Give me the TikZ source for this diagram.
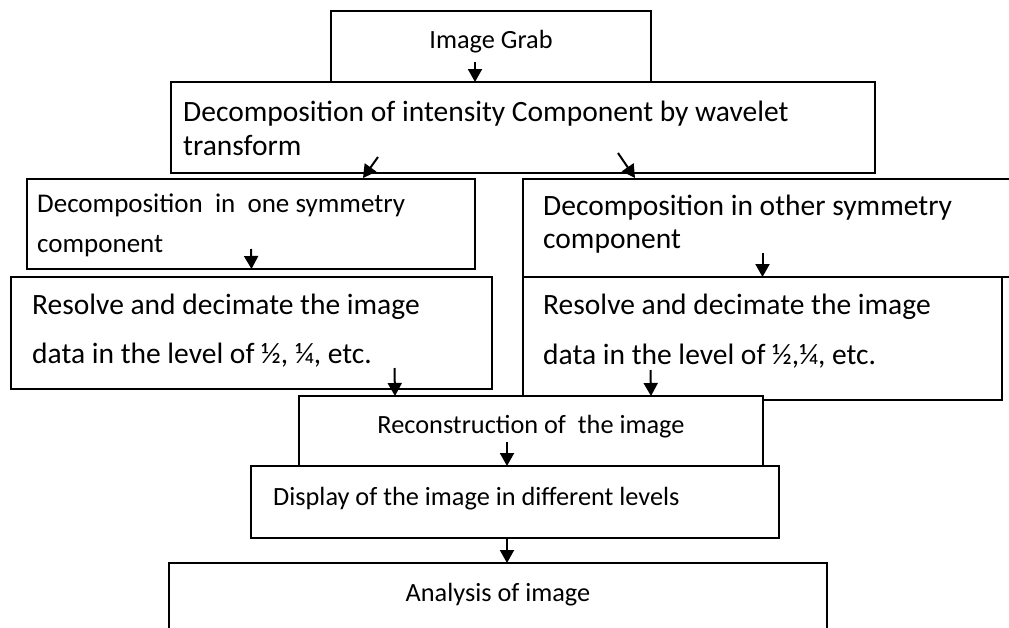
\documentclass[tikz,border=0pt]{standalone}
\usepackage{fontspec}
\setmainfont{Carlito}
\usepackage{tikz}
\usetikzlibrary{arrows.meta,positioning}
\tikzset{
  flowbox/.style={draw, line width=1.8pt, fill=white, inner sep=0pt, outer sep=0pt, anchor=north west},
  arr/.style={-{Triangle[length=13pt,width=14pt]}, line width=2pt},
  bigtxt/.style={font=\fontsize{29.5}{34}\selectfont, inner sep=0pt, anchor=base west},
  midtxt/.style={font=\fontsize{27}{32}\selectfont, inner sep=0pt, anchor=base west},
  smalltxt/.style={font=\fontsize{26.3}{30}\selectfont, inner sep=0pt, anchor=base}
}

\begin{document}
\begin{tikzpicture}[x=1pt,y=-1pt]
\useasboundingbox (0,0) rectangle (1009,627);
\clip (0,0) rectangle (1009,627);
% Boxes (top to bottom)
\node[flowbox, minimum width=704pt, minimum height=91pt] (decomp) at (171,82) {};
\node[flowbox, minimum width=320pt, minimum height=71pt] (grab) at (331,11) {};
\node[flowbox, minimum width=448pt, minimum height=90pt] (symone) at (27,179) {};
\node[flowbox, minimum width=481pt, minimum height=112pt] (resone) at (11,277) {};
\node[flowbox, minimum width=500pt, minimum height=98pt] (symtwo) at (523,179) {};
\node[flowbox, minimum width=479pt, minimum height=123pt] (restwo) at (523,277) {};
\node[flowbox, minimum width=464pt, minimum height=70pt] (recon) at (299,396) {};
\node[flowbox, minimum width=528pt, minimum height=72pt] (disp) at (251,466) {};
\node[flowbox, minimum width=658pt, minimum height=100pt] (anal) at (169,563) {};
% Texts
\node[smalltxt] (tgrab) at (491,48) {Image Grab};
\node[bigtxt] (tdecompa) at (183,121) {Decomposition of intensity Component by wavelet};
\node[bigtxt] (tdecompb) at (183,155) {transform};
\node[midtxt] (tsymonea) at (37,212) {Decomposition\ \ in\ \ one symmetry};
\node[midtxt] (tsymoneb) at (37,252) {component};
\node[bigtxt] (tresonea) at (32,314) {Resolve and decimate the image};
\node[bigtxt] (tresoneb) at (32,363) {data in the level of ½, ¼, etc.};
\node[bigtxt] (tsymtwoa) at (543,215) {Decomposition in other symmetry};
\node[bigtxt] (tsymtwob) at (543,248) {component};
\node[bigtxt] (trestwoa) at (543,314) {Resolve and decimate the image};
\node[bigtxt] (trestwob) at (543,364) {data in the level of ½,¼, etc.};
\node[smalltxt] (trecon) at (531,433) {Reconstruction of\ \ the image};
\node[smalltxt, anchor=base west] (tdisp) at (273,505) {Display of the image in different levels};
\node[smalltxt] (tanal) at (498,601) {Analysis of image};
% Arrows
\draw[arr] ([xshift=-16pt,yshift=20pt]grab.south) -- ([xshift=-16pt]grab.south);
\draw[arr] ([xshift=-145pt,yshift=16pt]decomp.south) -- ([xshift=112pt,yshift=1pt]symone.north);
\draw[arr] ([xshift=95pt,yshift=20pt]decomp.south) -- ([xshift=-138pt,yshift=1pt]symtwo.north);
\draw[arr] ([yshift=20pt]symone.south) -- ([yshift=8pt]resone.north);
\draw[arr] ([yshift=24pt]restwo.north) -- (restwo.north);
\draw[arr] ([xshift=143pt,yshift=21pt]resone.south) -- ([xshift=-136pt]recon.north);
\draw[arr] ([xshift=-112pt,yshift=30pt]restwo.south) -- ([xshift=120pt]recon.north);
\draw[arr] ([xshift=-24pt,yshift=24pt]recon.south) -- ([xshift=-8pt]disp.north);
\draw[arr] ([xshift=-8pt]disp.south) -- ([xshift=9pt]anal.north);
\end{tikzpicture}
\end{document}
